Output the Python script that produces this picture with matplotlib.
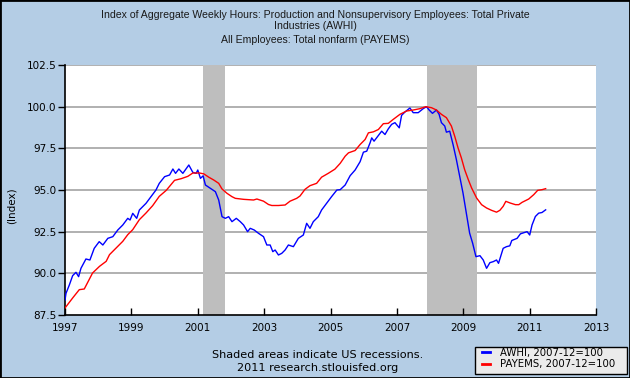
import matplotlib
matplotlib.use('Agg')
import matplotlib.pyplot as plt
from matplotlib.patches import Rectangle

# AWHI (blue), decimal years
awhi_x = [1997.00, 1997.03, 1997.13, 1997.23, 1997.33, 1997.41, 1997.48, 1997.63, 1997.75, 1997.88,
          1998.03, 1998.14, 1998.29, 1998.44, 1998.59, 1998.74, 1998.89, 1998.96, 1999.04, 1999.16,
          1999.24, 1999.44, 1999.59, 1999.74, 1999.84, 2000.00, 2000.15, 2000.25, 2000.33, 2000.43,
          2000.55, 2000.73, 2000.85, 2000.95, 2001.00, 2001.08, 2001.16, 2001.23, 2001.38, 2001.53,
          2001.63, 2001.73, 2001.83, 2001.93, 2002.03, 2002.16, 2002.28, 2002.38, 2002.50, 2002.58,
          2002.70, 2002.83, 2002.98, 2003.08, 2003.18, 2003.26, 2003.33, 2003.43, 2003.53, 2003.63,
          2003.73, 2003.88, 2004.03, 2004.18, 2004.28, 2004.38, 2004.48, 2004.63, 2004.73, 2004.88,
          2005.03, 2005.19, 2005.29, 2005.44, 2005.59, 2005.74, 2005.89, 2005.99, 2006.09, 2006.19,
          2006.24, 2006.31, 2006.44, 2006.54, 2006.64, 2006.74, 2006.84, 2006.94, 2007.07, 2007.14,
          2007.24, 2007.39, 2007.49, 2007.64, 2007.79, 2007.89, 2007.97, 2008.07, 2008.19, 2008.27,
          2008.34, 2008.44, 2008.49, 2008.59, 2008.69, 2008.79, 2008.89, 2008.99, 2009.09, 2009.19,
          2009.28, 2009.38, 2009.50, 2009.60, 2009.70, 2009.80, 2009.90, 2010.00, 2010.06, 2010.20,
          2010.30, 2010.40, 2010.46, 2010.62, 2010.72, 2010.84, 2010.92, 2011.00, 2011.07, 2011.17,
          2011.27, 2011.37, 2011.48]
awhi_y = [88.4, 88.8, 89.3, 89.86, 90.06, 89.8, 90.3, 90.86, 90.8, 91.5,
          91.9, 91.7, 92.1, 92.2, 92.6, 92.9, 93.3, 93.2, 93.6, 93.3,
          93.8, 94.2, 94.6, 95.0, 95.4, 95.8, 95.9, 96.26, 96.0, 96.26,
          96.0, 96.5, 96.06, 96.0, 96.2, 95.7, 95.85, 95.3, 95.1, 94.9,
          94.4, 93.4, 93.3, 93.4, 93.1, 93.3, 93.1, 92.9, 92.5, 92.7,
          92.6, 92.4, 92.2, 91.7, 91.7, 91.3, 91.4, 91.1, 91.2, 91.4,
          91.7, 91.6, 92.1, 92.3, 93.0, 92.7, 93.1, 93.4, 93.8, 94.2,
          94.6, 95.0, 95.02, 95.3, 95.86, 96.2, 96.7, 97.27, 97.33, 97.83,
          98.13, 97.93, 98.27, 98.53, 98.33, 98.67, 98.94, 99.04, 98.73, 99.48,
          99.68, 99.92, 99.64, 99.64, 99.88, 100.0, 99.8, 99.6, 99.8, 99.54,
          99.04, 98.84, 98.47, 98.53, 97.73, 96.83, 95.82, 94.82, 93.61, 92.41,
          91.81, 91.0, 91.06, 90.8, 90.3, 90.64, 90.7, 90.8, 90.6, 91.5,
          91.6, 91.65, 91.97, 92.1, 92.37, 92.45, 92.5, 92.3, 92.9, 93.41,
          93.61, 93.65, 93.81]

# PAYEMS (red)
payems_x = [1997.00, 1997.23, 1997.43, 1997.58, 1997.83, 1998.04, 1998.24, 1998.34, 1998.54, 1998.74,
            1998.89, 1999.04, 1999.24, 1999.44, 1999.64, 1999.84, 2000.05, 2000.30, 2000.50, 2000.70,
            2000.85, 2001.05, 2001.18, 2001.33, 2001.48, 2001.63, 2001.73, 2001.88, 2002.03, 2002.13,
            2002.38, 2002.68, 2002.78, 2002.98, 2003.13, 2003.23, 2003.43, 2003.63, 2003.78, 2003.98,
            2004.08, 2004.23, 2004.38, 2004.58, 2004.73, 2004.93, 2005.13, 2005.29, 2005.44, 2005.54,
            2005.74, 2005.89, 2006.04, 2006.14, 2006.29, 2006.44, 2006.59, 2006.74, 2006.89, 2007.09,
            2007.29, 2007.49, 2007.69, 2007.87, 2008.04, 2008.19, 2008.34, 2008.49, 2008.64, 2008.74,
            2008.84, 2008.94, 2009.04, 2009.15, 2009.25, 2009.40, 2009.55, 2009.70, 2009.85, 2010.00,
            2010.10, 2010.20, 2010.28, 2010.41, 2010.57, 2010.67, 2010.77, 2010.97, 2011.12, 2011.24,
            2011.37, 2011.48]
payems_y = [87.92, 88.52, 89.02, 89.06, 90.02, 90.42, 90.72, 91.12, 91.52, 91.92,
            92.32, 92.62, 93.22, 93.62, 94.06, 94.62, 94.98, 95.58, 95.68, 95.82,
            96.02, 96.02, 95.97, 95.77, 95.6, 95.4, 95.06, 94.8, 94.6, 94.5,
            94.44, 94.4, 94.46, 94.33, 94.13, 94.07, 94.07, 94.1, 94.33, 94.5,
            94.64, 95.04, 95.26, 95.4, 95.77, 96.0, 96.25, 96.6, 97.03, 97.23,
            97.37, 97.73, 98.03, 98.43, 98.49, 98.63, 98.98, 99.0, 99.24, 99.54,
            99.74, 99.8, 99.88, 100.0, 99.94, 99.8, 99.54, 99.34, 98.84, 98.23,
            97.53, 96.93, 96.22, 95.62, 95.12, 94.52, 94.12, 93.92, 93.78, 93.67,
            93.78, 94.02, 94.32, 94.22, 94.12, 94.12, 94.26, 94.46, 94.72, 94.98,
            95.02, 95.08]

recessions = [(2001.17, 2001.83), (2007.92, 2009.42)]
year_ticks = list(range(1997, 2014, 2))
value_ticks = [87.5, 90.0, 92.5, 95.0, 97.5, 100.0, 102.5]

bg = '#B4CDE5'
W, H = 630, 378

fig = plt.figure(figsize=(6.3, 3.78), dpi=100, facecolor=bg)
ax = fig.add_axes([0.1032, 0.1667, 0.843, 0.6613])
ax.set_facecolor('white')

for start, end in recessions:
    ax.axvspan(start, end, color='#BEBEBE', lw=0, zorder=1)

for v in value_ticks[1:]:
    ax.axhline(v, color='#AAAAAA', lw=1.3, zorder=0.5)

ax.plot(awhi_x, awhi_y, color='#0000FF', lw=1.0, zorder=3, label='AWHI, 2007-12=100')
ax.plot(payems_x, payems_y, color='#FF0000', lw=1.0, zorder=3, label='PAYEMS, 2007-12=100')

ax.set_xlim(1997, 2013)
ax.set_ylim(87.5, 102.5)
ax.set_xticks(year_ticks)
ax.set_yticks(value_ticks)
ax.set_yticklabels(['%.1f' % v for v in value_ticks])
ax.tick_params(axis='x', direction='in', length=5, width=1, labelsize=7.5, pad=6, colors='black')
ax.tick_params(axis='y', direction='out', length=5, width=1, labelsize=7.5, pad=1)

ax.spines['top'].set_visible(False)
ax.spines['right'].set_visible(False)
ax.spines['left'].set_linewidth(1.2)
ax.spines['bottom'].set_linewidth(1.2)

fig.text(0.019, 0.455, '(Index)', rotation=90, ha='center', va='center', fontsize=7.5)

title_font = dict(ha='center', va='center', fontsize=7.6, family='Liberation Sans', color='#1a1a1a')
fig.text(0.5, 1 - 14.5 / H, 'Index of Aggregate Weekly Hours: Production and Nonsupervisory Employees: Total Private',
         **title_font)
fig.text(0.5, 1 - 26 / H, 'Industries (AWHI)', **title_font)
fig.text(0.5, 1 - 40 / H, 'All Employees: Total nonfarm (PAYEMS)', **title_font)

fig.text(317.5 / W, 1 - 355 / H, 'Shaded areas indicate US recessions.', ha='center', va='center', fontsize=8.1)
fig.text(317.5 / W, 1 - 368 / H, '2011 research.stlouisfed.org', ha='center', va='center', fontsize=8.1)

# legend box drawn by hand so its size matches
fig.patches.append(Rectangle((475 / W, 1 - 374 / H), 152 / W, 27 / H, transform=fig.transFigure,
                             facecolor='#EBEBEB', edgecolor='black', lw=1.0, zorder=5))
leg = fig.legend(loc='upper left', bbox_to_anchor=(482 / W, 1 - 348 / H), fontsize=7.3,
                 frameon=False, handlelength=0.8, handletextpad=1.0, borderpad=0,
                 labelspacing=0.12, borderaxespad=0)
leg.set_zorder(6)
for line in leg.get_lines():
    line.set_linewidth(2)

fig.patches.append(Rectangle((0, 0), 1, 1, transform=fig.transFigure, fill=False,
                             edgecolor='black', lw=2, zorder=10))

fig.savefig('out.png', dpi=100, facecolor=bg)
